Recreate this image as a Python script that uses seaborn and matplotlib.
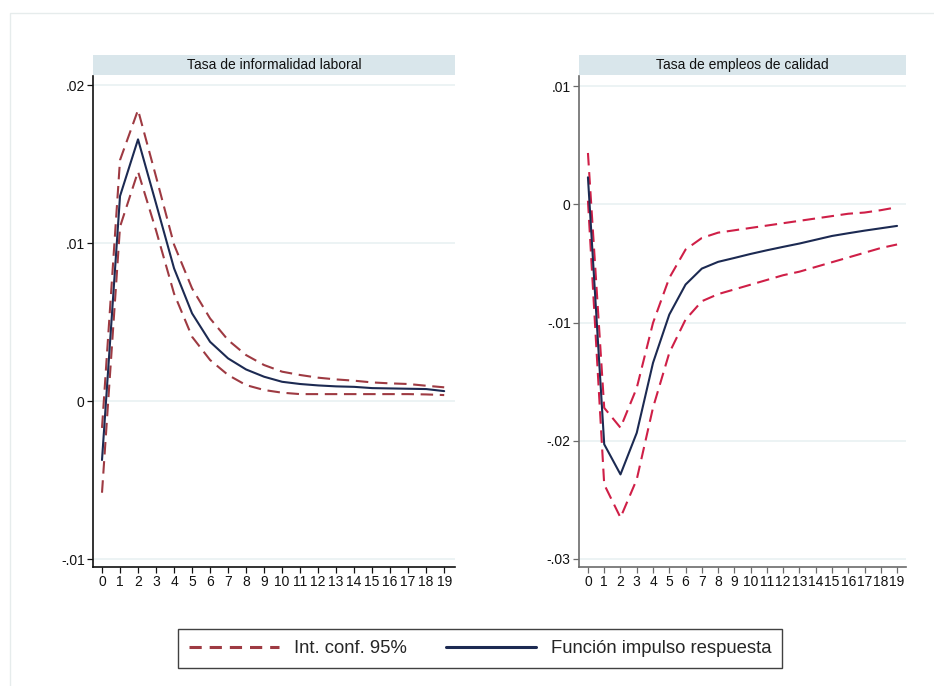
import numpy as np
import pandas as pd
import matplotlib
matplotlib.use("Agg")
import matplotlib.pyplot as plt
from matplotlib.lines import Line2D
from matplotlib.patches import Rectangle
import seaborn as sns

# Horizon (periods after the shock)
steps = list(range(20))

# Impulse response: informal labour rate
informal_irf = [-0.00373, 0.01297, 0.01656, 0.0125, 0.0084, 0.00555, 0.00375, 0.0027,
                0.0020, 0.00154, 0.00122, 0.00108, 0.00099, 0.00093, 0.0009, 0.00082,
                0.0008, 0.00078, 0.00076, 0.00063]
informal_upper = [-0.0017, 0.01525, 0.01842, 0.0142, 0.0099, 0.00713, 0.00523, 0.00386,
                  0.00291, 0.00228, 0.00186, 0.00165, 0.00148, 0.00137, 0.00129, 0.00118,
                  0.00112, 0.00108, 0.00097, 0.00087]
informal_lower = [-0.0058, 0.01103, 0.01452, 0.0108, 0.0068, 0.00407, 0.0026, 0.00165,
                  0.00101, 0.0007, 0.00053, 0.00044, 0.00044, 0.00044, 0.00044, 0.00044,
                  0.00044, 0.00044, 0.00042, 0.00038]

# Impulse response: quality employment rate
quality_irf = [0.00228, -0.0203, -0.02285, -0.01933, -0.01341, -0.00933, -0.00679, -0.00544,
               -0.00487, -0.00454, -0.0042, -0.00389, -0.0036, -0.00332, -0.003, -0.00268,
               -0.00245, -0.00223, -0.00203, -0.00183]
quality_upper = [0.00434, -0.01722, -0.0189, -0.01553, -0.01003, -0.00623, -0.00383, -0.00285,
                 -0.00240, -0.0022, -0.002, -0.0018, -0.0016, -0.0014, -0.0012, -0.001,
                 -0.0008, -0.0007, -0.0005, -0.00025]
quality_lower = [0.0003, -0.0237, -0.0265, -0.02327, -0.0172, -0.01257, -0.00975, -0.0082,
                 -0.0076, -0.0072, -0.0068, -0.0064, -0.0060, -0.0057, -0.0053, -0.0049,
                 -0.0045, -0.0041, -0.0037, -0.0034]

panel_titles = ["Tasa de informalidad laboral", "Tasa de empleos de calidad"]
legend_labels = ["Int. conf. 95%", "Función impulso respuesta"]

informal_yticks = [-0.01, 0.0, 0.01, 0.02]
informal_yticklabels = ["-.01", "0", ".01", ".02"]
quality_yticks = [-0.03, -0.02, -0.01, 0.0, 0.01]
quality_yticklabels = ["-.03", "-.02", "-.01", "0", ".01"]

sns.set_theme(style="white")
plt.rcParams["font.family"] = ["Liberation Sans", "DejaVu Sans"]

NAVY = "#1c2a52"
MAROON = "#9e3a42"
CRIMSON = "#cf1f47"
STRIP = "#d9e6eb"
GRID = "#e9f1f2"

fig = plt.figure(figsize=(9.34, 6.86), dpi=100)
W, H = 934, 686


def px_axes(x0, y0, x1, y1):
    return fig.add_axes([x0 / W, 1 - y1 / H, (x1 - x0) / W, (y1 - y0) / H])


# Light outer frame of the graph region
fig.add_artist(Rectangle((10 / W, -0.1), 1.2, 1 - 13 / H + 0.1, transform=fig.transFigure,
                         fill=False, edgecolor="#e6ecec", linewidth=1.0))

panels = [
    dict(box=(93, 76, 455, 567), irf=informal_irf, up=informal_upper, lo=informal_lower,
         ci_color=MAROON, spine="#111111", xlim=(-0.5, 19.6), ylim=(-0.0105, 0.02057),
         yt=informal_yticks, ytl=informal_yticklabels, title=panel_titles[0]),
    dict(box=(579, 76, 906, 567), irf=quality_irf, up=quality_upper, lo=quality_lower,
         ci_color=CRIMSON, spine="#6b6b6b", xlim=(-0.55, 19.55), ylim=(-0.03068, 0.01085),
         yt=quality_yticks, ytl=quality_yticklabels, title=panel_titles[1]),
]

for p in panels:
    x0, y0, x1, y1 = p["box"]
    ax = px_axes(x0, y0, x1, y1)
    df = pd.DataFrame({"step": steps, "irf": p["irf"], "up": p["up"], "lo": p["lo"]})
    for col in ["up", "lo"]:
        sns.lineplot(data=df, x="step", y=col, ax=ax, color=p["ci_color"], linewidth=1.5,
                     dashes=False, linestyle=(0, (6.0, 3.2)), zorder=3)
    sns.lineplot(data=df, x="step", y="irf", ax=ax, color=NAVY, linewidth=1.5, zorder=4)

    ax.set_xlim(*p["xlim"])
    ax.set_ylim(*p["ylim"])
    ax.set_xticks(steps)
    ax.set_xticklabels([str(s) for s in steps], fontsize=10)
    ax.set_yticks(p["yt"])
    ax.set_yticklabels(p["ytl"], fontsize=10)
    ax.set_xlabel("")
    ax.set_ylabel("")
    for yv in p["yt"]:
        ax.axhline(yv, color=GRID, linewidth=1.2, zorder=1)
    for side in ["top", "right"]:
        ax.spines[side].set_visible(False)
    for side in ["left", "bottom"]:
        ax.spines[side].set_color(p["spine"])
        ax.spines[side].set_linewidth(1.2)
    ax.tick_params(axis="both", direction="out", length=4, width=0.9, color=p["spine"],
                   labelcolor="#111111", pad=2, left=True, bottom=True)
    ax.set_facecolor("white")

    # Panel header strip
    sax = px_axes(x0, 55, x1, 75)
    sax.set_facecolor(STRIP)
    sax.set_xticks([])
    sax.set_yticks([])
    for s in sax.spines.values():
        s.set_visible(False)
    sax.text(0.5, 0.5, p["title"], ha="center", va="center", fontsize=10,
             color="#111111", transform=sax.transAxes)

handles = [
    Line2D([], [], color=MAROON, linewidth=2.2, linestyle=(0, (4.0, 2.6))),
    Line2D([], [], color=NAVY, linewidth=2.2),
]
leg = fig.legend(handles, legend_labels, loc="center", bbox_to_anchor=(480 / W, 1 - 648.5 / H),
                 ncol=2, fontsize=13.3, frameon=True, fancybox=False, handlelength=4.9,
                 handletextpad=0.8, columnspacing=2.1, borderpad=0.6)
leg.get_frame().set_edgecolor("#111111")
leg.get_frame().set_linewidth(1.0)

fig.savefig("out.png", dpi=100, facecolor="white")
